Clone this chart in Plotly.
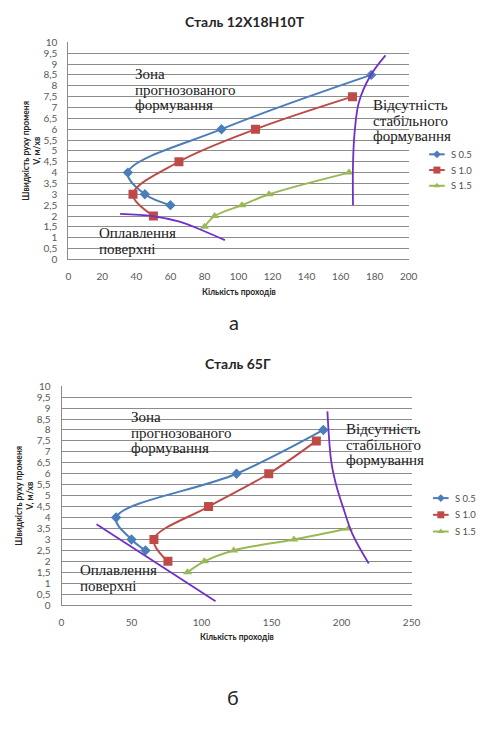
import plotly.graph_objects as go

W, H = 482, 732

# ---- Сталь 12Х18Н10Т ----
a_s05_x = [60, 45, 35, 90, 178]
a_s05_y = [2.5, 3, 4, 6, 8.5]
a_s10_x = [50, 38, 65, 110, 167]
a_s10_y = [2, 3, 4.5, 6, 7.5]
a_s15_x = [80, 86, 102, 118, 165]
a_s15_y = [1.5, 2, 2.5, 3, 4]
a_melt_x = [30.4, 49.5, 64.8, 80, 92]
a_melt_y = [2.1, 2.0, 1.75, 1.3, 0.89]
a_unst_x = [167.3, 167.3, 168.3, 170.8, 177.5, 186.4]
a_unst_y = [2.5, 4.4, 5.9, 7.25, 8.46, 9.4]
a_xticks = list(range(0, 201, 20))

# ---- Сталь 65Г ----
b_s05_x = [60, 50, 39, 125, 187]
b_s05_y = [2.5, 3, 4, 6, 8]
b_s10_x = [76, 66, 105, 148, 182]
b_s10_y = [2, 3, 4.5, 6, 7.5]
b_s15_x = [90, 102, 123, 166, 205]
b_s15_y = [1.5, 2, 2.5, 3, 3.5]
b_melt_x = [25, 110]
b_melt_y = [3.7, 0.18]
b_unst_x = [189.9, 192.7, 196.2, 202, 207.8, 219.4]
b_unst_y = [8.85, 6.53, 5.48, 4.29, 3.24, 1.9]
b_xticks = list(range(0, 251, 50))

y_ticks = [i * 0.5 for i in range(21)]
y_text = [("%g" % v).replace(".", ",") for v in y_ticks]

series_names = ["S 0.5", "S 1.0", "S 1.5"]
colors = ["#4A7EBB", "#BE4B48", "#98B954"]
symbols = ["diamond", "square", "triangle-up"]
msizes = [8, 9, 8]
purple = "#7030C8"

SANS = "Lato, Open Sans, sans-serif"
SERIF = "Liberation Serif, DejaVu Serif, serif"


def px(x):
    return x / W


def py(y):
    return 1 - y / H


fig = go.Figure()


def add_chart(xs, ys, melt, unst, xa, ya):
    for i, (x, y) in enumerate(zip(xs, ys)):
        fig.add_trace(go.Scatter(
            x=x, y=y, name=series_names[i], mode="lines+markers",
            line=dict(color=colors[i], width=2, shape="spline", smoothing=1),
            marker=dict(symbol=symbols[i], size=msizes[i], color=colors[i]),
            xaxis=xa, yaxis=ya, showlegend=False))
    for bx, by in (melt, unst):
        fig.add_trace(go.Scatter(
            x=bx, y=by, mode="lines", showlegend=False, hoverinfo="skip",
            line=dict(color=purple, width=1.8, shape="spline", smoothing=1),
            xaxis=xa, yaxis=ya))


add_chart([a_s05_x, a_s10_x, a_s15_x], [a_s05_y, a_s10_y, a_s15_y],
          (a_melt_x, a_melt_y), (a_unst_x, a_unst_y), "x", "y")
add_chart([b_s05_x, b_s10_x, b_s15_x], [b_s05_y, b_s10_y, b_s15_y],
          (b_melt_x, b_melt_y), (b_unst_x, b_unst_y), "x2", "y2")

# compact legends drawn on a page-sized overlay axis (pixel units)
legend_spots = [(437, [150, 166, 182]), (441, [500, 517, 534])]
for lx, lys in legend_spots:
    for i, ly in enumerate(lys):
        fig.add_trace(go.Scatter(
            x=[lx, lx + 16], y=[ly, ly], mode="lines", showlegend=False,
            hoverinfo="skip", line=dict(color=colors[i], width=2),
            xaxis="x3", yaxis="y3"))
        fig.add_trace(go.Scatter(
            x=[lx + 8], y=[ly], mode="markers", showlegend=False,
            hoverinfo="skip",
            marker=dict(symbol=symbols[i], size=msizes[i] - 2, color=colors[i]),
            xaxis="x3", yaxis="y3"))
        fig.add_annotation(text=series_names[i], xref="paper", yref="paper",
                           x=px(lx + 20), y=py(ly), xanchor="left",
                           yanchor="middle", showarrow=False,
                           font=dict(family=SANS, size=9.5, color="#505050"))

grid = "#8C8C8C"
tickfont = dict(family=SANS, size=10, color="#595959")

xcommon = dict(showgrid=False, zeroline=False, showline=True, linecolor=grid,
               linewidth=1, ticks="", tickfont=tickfont, ticklabelstandoff=8,
               fixedrange=True)
ycommon = dict(range=[0, 10], tickvals=y_ticks, ticktext=y_text,
               showgrid=True, gridcolor=grid, gridwidth=1, zeroline=False,
               showline=True, linecolor=grid, linewidth=1, ticks="",
               tickfont=tickfont, ticklabelstandoff=8, fixedrange=True)
hidden = dict(visible=False, showgrid=False, zeroline=False, fixedrange=True,
              domain=[0, 1])

fig.update_layout(
    width=W, height=H, autosize=False,
    margin=dict(l=0, r=0, t=0, b=0),
    paper_bgcolor="white", plot_bgcolor="rgba(0,0,0,0)",
    xaxis=dict(domain=[px(67), px(416)], range=[0, 200], tickvals=a_xticks,
               anchor="y", **xcommon),
    yaxis=dict(domain=[py(257), py(36)], anchor="x", **ycommon),
    xaxis2=dict(domain=[px(60), px(419)], range=[0, 250], tickvals=b_xticks,
                anchor="y2", **xcommon),
    yaxis2=dict(domain=[py(609), py(386)], anchor="x2", **ycommon),
    xaxis3=dict(range=[0, W], anchor="y3", **hidden),
    yaxis3=dict(range=[H, 0], anchor="x3", **hidden),
    showlegend=False,
)

# white panels behind the zone labels
boxes = [
    (128, 60, 236, 108), (91, 218, 172, 253), (372, 93, 456, 141),
    (124, 408, 236, 459), (73, 563, 157, 600), (345, 419, 432, 471),
]
for x0, y0, x1, y1 in boxes:
    fig.add_shape(type="rect", xref="paper", yref="paper",
                  x0=px(x0), x1=px(x1), y0=py(y1), y1=py(y0),
                  fillcolor="white", line=dict(width=0), layer="between")

# zone labels: line pitch follows the 12px base size, glyphs drawn at 15px
zone_labels = [
    (133, 84, ["Зона", "прогнозованого", "формування"]),
    (96, 238, ["Оплавлення", "поверхні"]),
    (377, 116, ["Відсутність", "стабільного", "формування"]),
    (129, 433.5, ["Зона", "прогнозованого", "формування"]),
    (77, 581.5, ["Оплавлення", "поверхні"]),
    (350, 445, ["Відсутність", "стабільного", "формування"]),
]
for x, yc, lines in zone_labels:
    txt = "<br>".join("<span style='font-size:15px'>%s</span>" % t for t in lines)
    fig.add_annotation(text=txt, xref="paper", yref="paper", x=px(x), y=py(yc),
                       xanchor="left", yanchor="middle", align="left",
                       showarrow=False,
                       font=dict(family=SERIF, size=12, color="#1A1A1A"))

# titles, axis titles, panel letters
texts = [
    ("Сталь 12Х18Н10Т", 248, 15, 14, True, 0),
    ("Сталь 65Г", 241, 363, 14, True, 0),
    ("Кількість проходів", 242, 290, 8.5, True, 0),
    ("Кількість проходів", 240, 641, 8.5, True, 0),
    ("Швидкість руху променя<br>V, м/хв", 29, 146, 8.5, True, -90),
    ("Швидкість руху променя<br>V, м/хв", 22, 497, 8.5, True, -90),
    ("а", 237, 321, 20, False, 0),
    ("б", 236, 702, 20, False, 0),
]
for t, x, y, size, bold, ang in texts:
    fig.add_annotation(text=("<b>%s</b>" % t) if bold else t,
                       xref="paper", yref="paper", x=px(x), y=py(y),
                       xanchor="center", yanchor="middle", showarrow=False,
                       textangle=ang,
                       font=dict(family=SANS, size=size, color="#262626"))

fig.write_html("out.html")
